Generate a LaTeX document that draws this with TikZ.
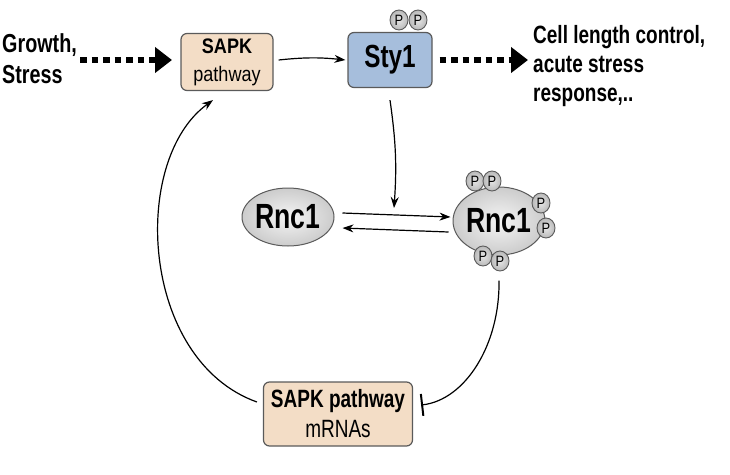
\documentclass[tikz,border=0pt]{standalone}
\usepackage{fontspec}
\setmainfont{Liberation Sans}
\newfontfamily\cond[FakeStretch=0.76]{Liberation Sans}
\newfontfamily\semicond[FakeStretch=0.86]{Liberation Sans}
\usetikzlibrary{arrows.meta,shapes.geometric}
\definecolor{beige}{RGB}{243,221,198}
\definecolor{stblue}{RGB}{166,190,220}
\definecolor{edge}{RGB}{90,90,90}
\tikzset{
  sapkbox/.style={draw=edge, line width=1.2pt, rounded corners=6pt, fill=beige, align=center, inner sep=0pt},
  stybox/.style={draw=edge, line width=1.2pt, rounded corners=6pt, fill=stblue, inner sep=0pt},
  blob/.style={ellipse, draw=edge, line width=1pt, inner color=white!92!gray, outer color=gray!40, inner sep=0pt},
  pcirc/.style={ellipse, draw=edge, line width=0.9pt, inner color=white!80!gray, outer color=gray!55, minimum width=18pt, minimum height=20pt, inner sep=0pt, font=\semicond\fontsize{15}{15}\selectfont},
  dotarrow/.style={line width=6.5pt, dash pattern=on 6.5pt off 5pt, -{Triangle[length=17pt,width=25pt]}},
  conn/.style={line width=1.2pt, -{Stealth[length=11pt,width=8pt]}},
  inhib/.style={line width=1.2pt, -{Bar[width=22pt,line width=2pt]}},
  lbl/.style={align=left, inner sep=0pt}
}
\begin{document}
\begin{tikzpicture}[x=1pt,y=-1pt]
\useasboundingbox (0,0) rectangle (730,474);
% input text
\node[lbl, anchor=north west, font=\cond\bfseries\fontsize{26}{31}\selectfont] (growth) at (2,33) {Growth,\\Stress};
\node[sapkbox, minimum width=92pt, minimum height=57pt, font=\semicond\fontsize{21}{28}\selectfont] (sapk) at (227,62) {\textbf{SAPK}\\pathway};
\node[stybox, minimum width=84pt, minimum height=55pt, font=\cond\fontsize{32}{32}\selectfont\bfseries] (sty) at (390,60) {Sty1};
\node[pcirc] (sp1) at (399,20) {P};
\node[pcirc] (sp2) at (418,20) {P};
\node[lbl, anchor=north west, font=\cond\bfseries\fontsize{25}{29}\selectfont] (out) at (533,25) {Cell length control,\\acute stress\\response,..};
% Rnc1
\node[blob, minimum width=80pt, minimum height=58pt, font=\cond\fontsize{35}{35}\selectfont\bfseries] (rnc) at (288,217) {Rnc1};
\node[blob, minimum width=86pt, minimum height=68pt, font=\cond\fontsize{35}{35}\selectfont\bfseries] (rncp) at (499,221) {Rnc1};
\node[pcirc] (p1) at (475,181) {P};
\node[pcirc] (p2) at (492,181) {P};
\node[pcirc] (p3) at (541,203) {P};
\node[pcirc] (p4) at (546,228) {P};
\node[pcirc] (p5) at (483,256) {P};
\node[pcirc] (p6) at (500,261) {P};
% mRNA box
\node[sapkbox, minimum width=149pt, minimum height=64pt, font=\cond\fontsize{25}{30}\selectfont] (mrna) at (338,414) {\textbf{SAPK pathway}\\mRNAs};
% connectors
\coordinate (gtip) at (172,60);
\coordinate (otip) at (528,60);
\draw[dotarrow] (80,60) coordinate (g0) -- (gtip);
\draw[conn] ([xshift=5pt,yshift=2pt]sapk.east) to[bend left=6] ([xshift=-2pt]sty.west);
\draw[dotarrow] ([xshift=7pt]sty.east) -- (otip);
\coordinate (mid) at (394,208);
\draw[conn] ([yshift=-12pt]sty.south) to[bend left=6] (mid);
\draw[conn] ([yshift=4pt,xshift=8pt]rnc.east) -- ([yshift=4pt,xshift=-2pt]rncp.west);
\draw[conn] ([yshift=-11pt,xshift=-4pt]rncp.west) -- ([yshift=-11pt,xshift=8pt]rnc.east);
\draw[inhib] ([yshift=-25pt]rncp.south) .. controls (500,345) and (465,400) .. ([xshift=8pt,yshift=9pt]mrna.east);
\draw[conn] ([xshift=-6pt,yshift=12pt]mrna.west) .. controls (140,360) and (130,160) .. ([xshift=-14pt,yshift=-9pt]sapk.south);
\end{tikzpicture}
\end{document}
